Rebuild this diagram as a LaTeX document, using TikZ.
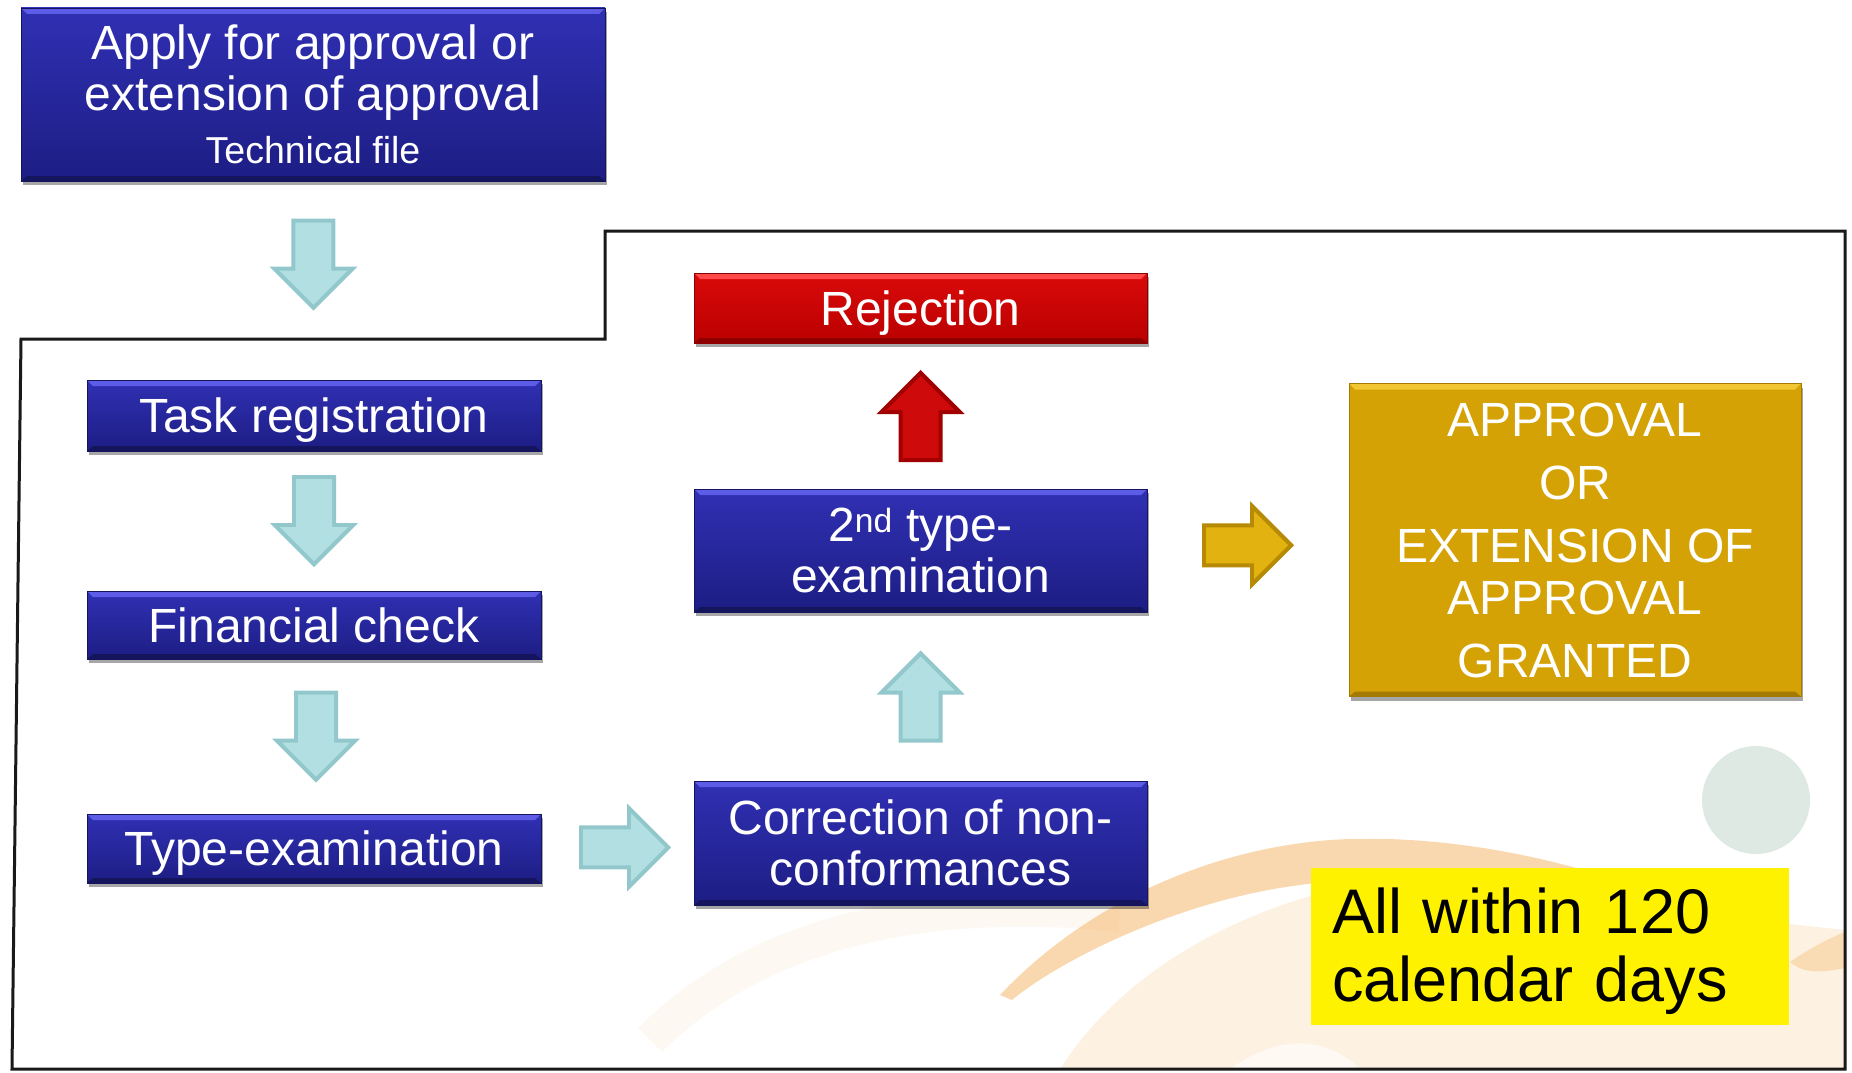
\documentclass[tikz,border=0pt]{standalone}
\usepackage{fontspec}
\setmainfont{Liberation Sans}
\usetikzlibrary{shadows,calc}
\definecolor{blueT}{HTML}{3030B4}
\definecolor{blueB}{HTML}{1D1D84}
\definecolor{blueH}{HTML}{5C5CE6}
\definecolor{blueD}{HTML}{15155E}
\definecolor{redT}{HTML}{DA0A0A}
\definecolor{redB}{HTML}{BA0000}
\definecolor{redH}{HTML}{FF4848}
\definecolor{redD}{HTML}{8E0000}
\definecolor{goldM}{HTML}{D5A206}
\definecolor{goldH}{HTML}{F2C632}
\definecolor{goldD}{HTML}{A27A04}
\definecolor{cyanF}{HTML}{B2E0E2}
\definecolor{cyanE}{HTML}{92C8CC}
\definecolor{garF}{HTML}{E2B210}
\definecolor{garE}{HTML}{B68A04}
\definecolor{rarF}{HTML}{CE0A0A}
\definecolor{rarE}{HTML}{A00000}
\definecolor{swoosh}{HTML}{F4B260}
\definecolor{dotc}{HTML}{DFE9E4}
\newcommand\fsz[2]{\fontsize{#1}{#2}\selectfont}
\tikzset{
  bevel/.style 2 args={path picture={
    \fill[#1] (path picture bounding box.north west) -- (path picture bounding box.north east)
      -- ([xshift=-6pt,yshift=-6pt]path picture bounding box.north east)
      -- ([xshift=6pt,yshift=-6pt]path picture bounding box.north west) -- cycle;
    \fill[#2] (path picture bounding box.south west) -- (path picture bounding box.south east)
      -- ([xshift=-6pt,yshift=5pt]path picture bounding box.south east)
      -- ([xshift=6pt,yshift=5pt]path picture bounding box.south west) -- cycle;
  }},
  box/.style={rectangle, inner sep=0pt, align=center, text=white,
    drop shadow={shadow xshift=2pt, shadow yshift=-4pt, opacity=0.35, fill=black}},
  bluebox/.style={box, top color=blueT, bottom color=blueB, draw=blueD, line width=0.8pt,
    bevel={blueH}{blueD}, font=\fsz{48}{51}},
  redbox/.style={box, top color=redT, bottom color=redB, draw=redD, line width=0.8pt,
    bevel={redH}{redD}, font=\fsz{48}{51}},
  goldbox/.style={box, fill=goldM, draw=goldD, line width=0.8pt,
    bevel={goldH}{goldD}, font=\fsz{48}{52}},
  oneline/.style={text height=36pt, text depth=2pt},
  notebox/.style={rectangle, fill=yellow, inner xsep=21pt, inner ysep=0pt, align=left,
    text width=436pt, minimum height=157pt, text depth=72pt, font=\fsz{63}{68}},
  frameline/.style={draw=black!90, line width=3pt, line join=miter},
  pics/blockarrow/.style 2 args={code={
    \fill[#1] (-46,-22) -- (2,-22) -- (2,-44) -- (46,0) -- (2,44) -- (2,22) -- (-46,22) -- cycle;
    \fill[#2] (-42,-18) -- (6,-18) -- (6,-34) -- (40,0) -- (6,34) -- (6,18) -- (-42,18) -- cycle;
  }}
}
\begin{document}
\begin{tikzpicture}[x=1pt,y=-1pt]
\useasboundingbox (0,0) rectangle (1852,1073);
\fill[white] (0,0) rectangle (1852,1073);

% background decoration
\begin{scope}
  \clip (605,231) -- (1845,231) -- (1845,1069) -- (12,1069) -- (21,339) -- (605,339) -- cycle;
  \fill[dotc] (1756,800) circle (54);
  \draw[swoosh, opacity=0.08, line width=34pt] (650,1040) .. controls (760,930) and (930,895) .. (1120,915);
  \fill[swoosh, opacity=0.18] (1060,1069) .. controls (1130,960) and (1260,900) .. (1380,880)
     -- (1845,930) -- (1845,1069) -- cycle;
  \fill[white, opacity=0.6] (1230,1069) .. controls (1270,1040) and (1320,1030) .. (1360,1069) -- cycle;
  \fill[swoosh, opacity=0.5] (1000,995) .. controls (1080,910) and (1200,850) .. (1330,840)
     .. controls (1420,834) and (1520,850) .. (1600,875)
     -- (1600,905) .. controls (1500,880) and (1400,870) .. (1300,885)
     .. controls (1180,900) and (1060,960) .. (1012,1000) -- cycle;
  \fill[swoosh, opacity=0.35] (1790,962) .. controls (1810,948) and (1830,938) .. (1845,932)
     -- (1845,968) .. controls (1825,972) and (1805,975) .. (1790,962) -- cycle;
\end{scope}

% frame
\draw[frameline] (605,231) -- (1845,231) -- (1845,1069) -- (12,1069) -- (21,339) -- (605,339) -- cycle;

% boxes
\node[bluebox, minimum width=584pt, minimum height=173pt] (apply) at (313,94.5)
  {Apply for approval or\\extension of approval\\[2pt]{\fsz{37.5}{51}Technical file}};
\node[bluebox, oneline, minimum width=454pt, minimum height=71pt] (task) at (314,415.5) {Task registration};
\node[bluebox, oneline, minimum width=454pt, minimum height=68pt] (fin) at (314,625) {Financial check};
\node[bluebox, oneline, minimum width=454pt, minimum height=69pt] (type) at (314,848.5) {Type-examination};
\node[redbox, oneline, minimum width=453pt, minimum height=70pt] (rej) at (920.5,308) {Rejection};
\node[bluebox, minimum width=453pt, minimum height=123pt] (exam) at (920.5,550.5)
  {2\textsuperscript{nd} type-\\examination};
\node[bluebox, minimum width=453pt, minimum height=124pt] (corr) at (920.5,843)
  {Correction of non-\\conformances};
\node[goldbox, minimum width=452pt, minimum height=313pt] (grant) at (1575,540)
  {APPROVAL\\[11pt]OR\\[11pt]EXTENSION OF\\APPROVAL\\[11pt]GRANTED};
\node[notebox] (note) at (1550,946.5) {All within 120\\calendar days};

% block arrows
\pic[rotate=-90] at ($(apply.south)!0.42!(task.north)$) {blockarrow={cyanE}{cyanF}};
\pic[rotate=-90] at ($(task.south)!0.5!(fin.north)$) {blockarrow={cyanE}{cyanF}};
\pic[rotate=-90] at ($(fin.south)!0.5!(type.north)+(2,0)$) {blockarrow={cyanE}{cyanF}};
\pic at ($(type.east)!0.55!(corr.west)+(0,2)$) {blockarrow={cyanE}{cyanF}};
\pic[rotate=90] at ($(corr.north)!0.5!(exam.south)$) {blockarrow={cyanE}{cyanF}};
\pic[rotate=90] at ($(exam.north)!0.5!(rej.south)$) {blockarrow={rarE}{rarF}};
\pic at ($(exam.east)!0.5!(grant.west)$) {blockarrow={garE}{garF}};
\end{tikzpicture}
\end{document}
